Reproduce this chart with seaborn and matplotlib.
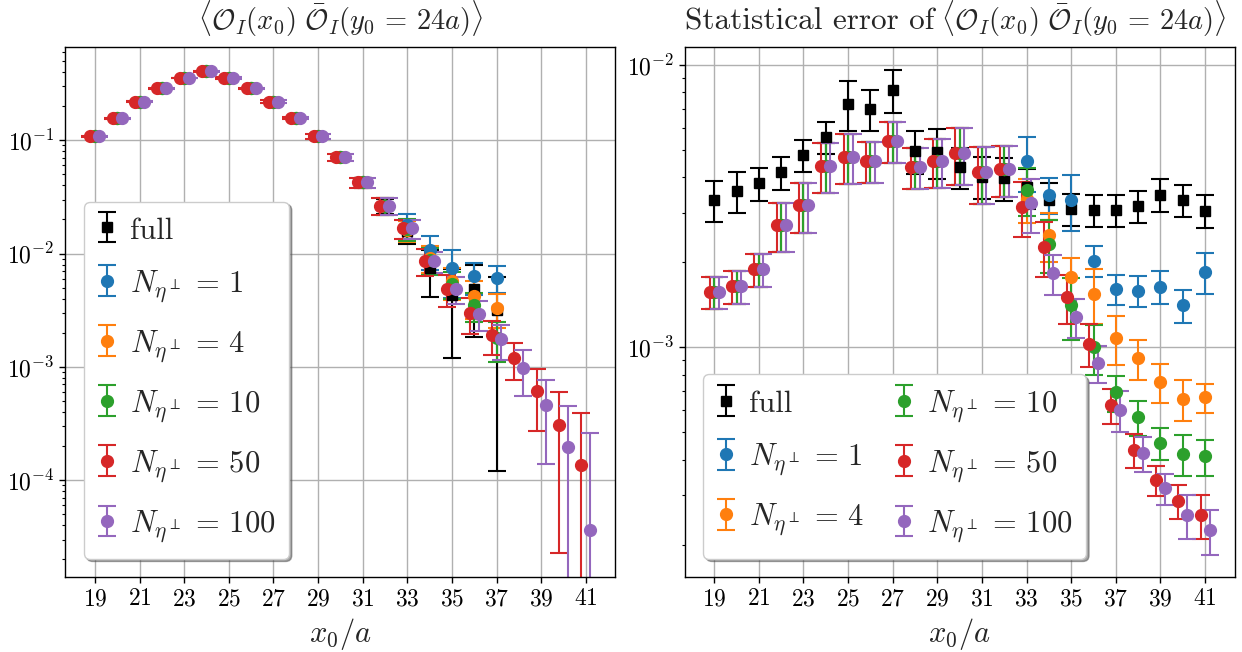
import numpy as np
import matplotlib
matplotlib.use("Agg")
import matplotlib.pyplot as plt
import seaborn as sns

# ---------------- data ----------------
x0 = [19, 20, 21, 22, 23, 24, 25, 26, 27, 28, 29, 30, 31, 32,
      33, 34, 35, 36, 37, 38, 39, 40, 41]
xticks = [19, 21, 23, 25, 27, 29, 31, 33, 35, 37, 39, 41]
nan = np.nan

# correlator <O_I(x0) Obar_I(y0=24a)>
corr_full = [0.108, 0.157, 0.219, 0.287, 0.354, 0.406, 0.354, 0.287, 0.219, 0.157, 0.108, 0.0709, 0.0424, 0.0264,
             0.0158, 0.0075, 0.00428, 0.0049, 0.00318, nan, nan, nan, nan]
corr_n1 = [0.108, 0.157, 0.219, 0.287, 0.354, 0.406, 0.354, 0.287, 0.219, 0.157, 0.108, 0.0709, 0.0424, 0.0264,
           0.0180, 0.0107, 0.0074, 0.0063, 0.0061, nan, nan, nan, nan]
corr_n4 = [0.108, 0.157, 0.219, 0.287, 0.354, 0.406, 0.354, 0.287, 0.219, 0.157, 0.108, 0.0709, 0.0424, 0.0264,
           0.0161, 0.0092, 0.0057, 0.0042, 0.0033, nan, nan, nan, nan]
corr_n10 = [0.108, 0.157, 0.219, 0.287, 0.354, 0.406, 0.354, 0.287, 0.219, 0.157, 0.108, 0.0709, 0.0424, 0.0264,
            0.0164, 0.0088, 0.0054, 0.0035, 0.0018, nan, nan, nan, nan]
corr_n50 = [0.108, 0.157, 0.219, 0.287, 0.354, 0.406, 0.354, 0.287, 0.219, 0.157, 0.108, 0.0709, 0.0424, 0.0264,
            0.0167, 0.0086, 0.0049, 0.0030, 0.0019, 0.0012, 0.00061, 0.00031, 0.000135]
corr_n100 = [0.108, 0.157, 0.219, 0.287, 0.354, 0.406, 0.354, 0.287, 0.219, 0.157, 0.108, 0.0709, 0.0424, 0.0264,
             0.0167, 0.0086, 0.0049, 0.00294, 0.00175, 0.00098, 0.000457, 0.000196, 0.0000367]

# statistical error of the correlator
err_full = [3.33e-3, 3.59e-3, 3.81e-3, 4.16e-3, 4.80e-3, 5.57e-3, 7.28e-3, 6.97e-3, 8.15e-3, 4.97e-3, 4.93e-3,
            4.36e-3, 4.02e-3, 3.99e-3, 3.69e-3, 3.33e-3, 3.09e-3, 3.06e-3, 3.06e-3, 3.17e-3, 3.47e-3, 3.33e-3, 3.05e-3]
err_n1 = [1.57e-3, 1.65e-3, 1.89e-3, 2.71e-3, 3.19e-3, 4.40e-3, 4.73e-3, 4.58e-3, 5.38e-3, 4.36e-3, 4.57e-3,
          4.87e-3, 4.18e-3, 4.28e-3, 4.55e-3, 3.47e-3, 3.33e-3, 2.03e-3, 1.61e-3, 1.59e-3, 1.64e-3, 1.41e-3, 1.85e-3]
err_n4 = [1.57e-3, 1.65e-3, 1.89e-3, 2.71e-3, 3.19e-3, 4.40e-3, 4.73e-3, 4.58e-3, 5.38e-3, 4.36e-3, 4.57e-3,
          4.87e-3, 4.18e-3, 4.28e-3, 3.35e-3, 2.50e-3, 1.78e-3, 1.55e-3, 1.08e-3, 9.14e-4, 7.55e-4, 6.59e-4, 6.65e-4]
err_n10 = [1.57e-3, 1.65e-3, 1.89e-3, 2.71e-3, 3.19e-3, 4.40e-3, 4.73e-3, 4.58e-3, 5.38e-3, 4.36e-3, 4.57e-3,
           4.87e-3, 4.18e-3, 4.28e-3, 3.61e-3, 2.33e-3, 1.41e-3, 1.00e-3, 6.93e-4, 5.65e-4, 4.59e-4, 4.21e-4, 4.12e-4]
err_n50 = [1.57e-3, 1.65e-3, 1.89e-3, 2.71e-3, 3.19e-3, 4.40e-3, 4.73e-3, 4.58e-3, 5.38e-3, 4.36e-3, 4.57e-3,
           4.87e-3, 4.18e-3, 4.28e-3, 3.15e-3, 2.27e-3, 1.51e-3, 1.03e-3, 6.25e-4, 4.35e-4, 3.39e-4, 2.87e-4, 2.55e-4]
err_n100 = [1.57e-3, 1.65e-3, 1.89e-3, 2.71e-3, 3.19e-3, 4.40e-3, 4.73e-3, 4.58e-3, 5.38e-3, 4.36e-3, 4.57e-3,
            4.87e-3, 4.18e-3, 4.28e-3, 3.25e-3, 1.83e-3, 1.28e-3, 8.78e-4, 6.03e-4, 4.23e-4, 3.17e-4, 2.55e-4, 2.25e-4]

# error of the statistical error
eerr_full = [5.6e-4, 6.0e-4, 5.0e-4, 5.5e-4, 6.4e-4, 7.2e-4, 1.46e-3, 1.15e-3, 1.40e-3, 8.5e-4, 9.8e-4,
             7.3e-4, 6.8e-4, 6.8e-4, 6.0e-4, 5.0e-4, 4.0e-4, 4.0e-4, 4.0e-4, 4.2e-4, 4.6e-4, 4.4e-4, 4.0e-4]
eerr_n1 = [2.0e-4, 2.2e-4, 2.5e-4, 5.4e-4, 6.4e-4, 8.9e-4, 9.5e-4, 7.7e-4, 9.0e-4, 7.3e-4, 9.0e-4,
           1.1e-3, 9.5e-4, 8.7e-4, 1.0e-3, 5.0e-4, 7.5e-4, 2.6e-4, 2.0e-4, 2.0e-4, 2.2e-4, 1.9e-4, 3.0e-4]
eerr_n4 = [2.0e-4, 2.2e-4, 2.5e-4, 5.4e-4, 6.4e-4, 8.9e-4, 9.5e-4, 7.7e-4, 9.0e-4, 7.3e-4, 9.0e-4,
           1.1e-3, 9.5e-4, 8.7e-4, 6.0e-4, 5.0e-4, 3.0e-4, 3.4e-4, 2.1e-4, 1.5e-4, 1.2e-4, 1.1e-4, 8.0e-5]
eerr_n10 = [2.0e-4, 2.2e-4, 2.5e-4, 5.4e-4, 6.4e-4, 8.9e-4, 9.5e-4, 7.7e-4, 9.0e-4, 7.3e-4, 9.0e-4,
            1.1e-3, 9.5e-4, 8.7e-4, 7.0e-4, 5.0e-4, 3.5e-4, 2.0e-4, 1.0e-4, 8.0e-5, 6.0e-5, 7.0e-5, 6.0e-5]
eerr_n50 = [2.0e-4, 2.2e-4, 2.5e-4, 5.4e-4, 6.4e-4, 8.9e-4, 9.5e-4, 7.7e-4, 9.0e-4, 7.3e-4, 9.0e-4,
            1.1e-3, 9.5e-4, 8.7e-4, 7.0e-4, 5.0e-4, 3.0e-4, 1.8e-4, 9.0e-5, 6.0e-5, 4.0e-5, 4.0e-5, 4.5e-5]
eerr_n100 = [2.0e-4, 2.2e-4, 2.5e-4, 5.4e-4, 6.4e-4, 8.9e-4, 9.5e-4, 7.7e-4, 9.0e-4, 7.3e-4, 9.0e-4,
             1.1e-3, 9.5e-4, 8.7e-4, 7.0e-4, 3.0e-4, 2.0e-4, 1.3e-4, 1.0e-4, 6.0e-5, 4.0e-5, 4.5e-5, 4.0e-5]

labels = ["full", r"$N_{\eta^\perp}\,=\,1$", r"$N_{\eta^\perp}\,=\,4$", r"$N_{\eta^\perp}\,=\,10$",
          r"$N_{\eta^\perp}\,=\,50$", r"$N_{\eta^\perp}\,=\,100$"]
corr_list = [corr_full, corr_n1, corr_n4, corr_n10, corr_n50, corr_n100]
err_list = [err_full, err_n1, err_n4, err_n10, err_n50, err_n100]
eerr_list = [eerr_full, eerr_n1, eerr_n4, eerr_n10, eerr_n50, eerr_n100]

# ---------------- style ----------------
sns.set_theme(style="ticks")
tab = sns.color_palette("tab10")
colors = ["black", tab[0], tab[1], tab[2], tab[3], tab[4]]
markers = ["s", "o", "o", "o", "o", "o"]
shifts = [0.0, 0.0, 0.0, 0.0, -0.2, 0.2]

plt.rcParams.update({
    "font.family": "serif",
    "font.serif": ["cmr10", "DejaVu Serif"],
    "mathtext.fontset": "cm",
    "axes.formatter.use_mathtext": True,
    "axes.unicode_minus": True,
    "axes.edgecolor": "black",
    "axes.linewidth": 1.0,
    "axes.grid": True,
    "grid.color": "#b0b0b0",
    "grid.linewidth": 1.0,
    "xtick.color": "black",
    "ytick.color": "black",
    "xtick.major.size": 4.5,
    "ytick.major.size": 4.5,
    "ytick.minor.size": 2.5,
    "xtick.major.width": 1.0,
    "ytick.major.width": 1.0,
    "ytick.minor.width": 0.8,
    "xtick.labelsize": 17,
    "ytick.labelsize": 17,
})

title_core = r"$\langle \mathcal{O}_I(x_0)\ \bar{\mathcal{O}}_I(y_0 \,=\, 24a) \rangle$"

fig, axes = plt.subplots(1, 2, figsize=(12.42, 6.52), dpi=100)
fig.subplots_adjust(left=0.0527, right=0.994, bottom=0.115, top=0.9285, wspace=0.1266)

xarr = np.array(x0, dtype=float)
for ax, panel in zip(axes, ["corr", "err"]):
    ax.set_yscale("log")
    for i in range(6):
        if panel == "corr":
            yv, ye = corr_list[i], err_list[i]
        else:
            yv, ye = err_list[i], eerr_list[i]
        ms = 7.5 if markers[i] == "s" else 8.5
        ax.errorbar(xarr + shifts[i], yv, yerr=ye, fmt=markers[i], color=colors[i],
                    ms=ms, capsize=6.5, capthick=1.5, elinewidth=1.5, label=labels[i])
    ax.set_xticks(xticks)
    ax.set_xlim(17.68, 42.32)
    ax.set_xlabel(r"$x_0/a$", fontsize=22)
    ax.grid(True, which="major", color="#b0b0b0", linewidth=1.0)
    ax.grid(False, which="minor")
    ax.set_axisbelow(True)
    for s in ax.spines.values():
        s.set_visible(True)
        s.set_color("black")

axes[0].set_ylim(1.4e-5, 0.67)
axes[1].set_ylim(1.54e-4, 0.0116)
axes[0].set_title(title_core, fontsize=20.5, pad=12)
axes[1].set_title("Statistical error of", loc="left", fontsize=22.5, pad=12)
axes[1].set_title(title_core, loc="right", x=0.985, fontsize=20.5, pad=12)

leg_kw = dict(loc="lower left", fontsize=22, fancybox=True, shadow=True, framealpha=1,
              handlelength=0.6, handleheight=0.9, handletextpad=0.45, borderpad=0.45,
              labelspacing=0.76, borderaxespad=0.6)
axes[0].legend(**leg_kw)
axes[1].legend(ncol=2, columnspacing=1.0, **leg_kw)

fig.savefig("out.png", dpi=100)
